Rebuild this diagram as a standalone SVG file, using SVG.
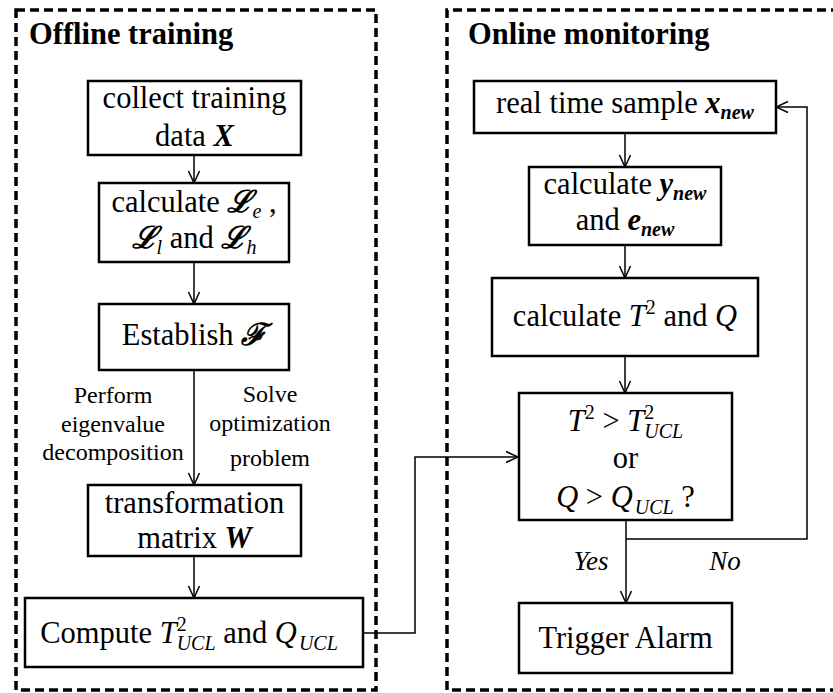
<svg xmlns="http://www.w3.org/2000/svg" width="833" height="693" viewBox="0 0 833 693" font-family="Liberation Serif, Times New Roman, serif">
  <style>
    .frame { fill: none; stroke: #000; stroke-width: 3.5; stroke-dasharray: 9 5; }
    .box { fill: #fff; stroke: #000; stroke-width: 2.5; }
    .edge { fill: none; stroke: #000; stroke-width: 1.5; marker-end: url(#arrow); }
    .title { font-size: 30.5px; font-weight: bold; }
    .t { font-size: 30.5px; text-anchor: middle; }
    .lbl { font-size: 24px; text-anchor: middle; }
    .yn { font-size: 27px; text-anchor: middle; font-style: italic; }
    .bi { font-weight: bold; font-style: italic; }
    .it { font-style: italic; }
    .scr { font-weight: bold; font-style: italic; }
    .sub { font-size: 20px; font-style: italic; }
    .subb { font-size: 20px; font-style: italic; font-weight: bold; }
  </style>
  <defs>
    <marker id="arrow" viewBox="-1 -7 14 14" refX="12" refY="0" markerWidth="14" markerHeight="14" markerUnits="userSpaceOnUse" orient="auto">
      <path d="M0,-5.5 L12,0 L0,5.5" fill="none" stroke="#000" stroke-width="1.5"/>
    </marker>
  </defs>

  <!-- stage frames -->
  <g id="offline-frame">
    <rect class="frame" x="16" y="10" width="360" height="680"/>
    <text class="title" font-family="Liberation Serif, serif" x="29" y="44">Offline training</text>
  </g>
  <g id="online-frame">
    <path class="frame" d="M840,10 L447,10 L447,690 L840,690"/>
    <text class="title" font-family="Liberation Serif, serif" x="468" y="44">Online monitoring</text>
  </g>

  <!-- connectors -->
  <g id="connectors">
    <path class="edge" d="M194,155 L194,183"/>
    <path class="edge" d="M194,262 L194,304"/>
    <path class="edge" d="M194,370 L194,485"/>
    <path class="edge" d="M194,556 L194,598"/>
    <path class="edge" d="M363,633 L415,633 L415,457 L518,457"/>
    <path class="edge" d="M625,133 L625,167"/>
    <path class="edge" d="M625,245 L625,278"/>
    <path class="edge" d="M625,356 L625,393"/>
    <path class="edge" d="M626,520 L626,603"/>
    <path class="edge" d="M626,539 L807,539 L807,107 L776,107"/>
    <text class="lbl" font-family="Liberation Serif, serif" x="113" y="403">Perform</text>
    <text class="lbl" font-family="Liberation Serif, serif" x="113" y="432">eigenvalue</text>
    <text class="lbl" font-family="Liberation Serif, serif" x="113" y="460">decomposition</text>
    <text class="lbl" font-family="Liberation Serif, serif" x="270" y="402">Solve</text>
    <text class="lbl" font-family="Liberation Serif, serif" x="270" y="431">optimization</text>
    <text class="lbl" font-family="Liberation Serif, serif" x="270" y="466">problem</text>
    <text class="yn" font-family="Liberation Serif, serif" x="591" y="570">Yes</text>
    <text class="yn" font-family="Liberation Serif, serif" x="725" y="570">No</text>
  </g>

  <!-- offline nodes -->
  <g id="collect-data">
    <rect class="box" x="88" y="81" width="213" height="74"/>
    <text class="t" font-family="Liberation Serif, serif" x="194.5" y="108">collect training</text>
    <text class="t" font-family="Liberation Serif, serif" x="194.5" y="146">data <tspan class="bi">X</tspan></text>
  </g>
  <g id="calc-losses">
    <rect class="box" x="99" y="183" width="190" height="79"/>
    <text class="t" font-family="Liberation Serif, serif" x="194" y="212">calculate <tspan class="scr" font-family="DejaVu Serif, serif">ℒ</tspan><tspan class="sub" dy="6">e</tspan><tspan dy="-6"> ,</tspan></text>
    <text class="t" font-family="Liberation Serif, serif" x="194" y="248"><tspan class="scr" font-family="DejaVu Serif, serif">ℒ</tspan><tspan class="sub" dy="6">l</tspan><tspan dy="-6"> and </tspan><tspan class="scr" font-family="DejaVu Serif, serif">ℒ</tspan><tspan class="sub" dy="6">h</tspan></text>
  </g>
  <g id="establish-f">
    <rect class="box" x="99" y="304" width="190" height="66"/>
    <text class="t" font-family="Liberation Serif, serif" x="194" y="345">Establish <tspan class="scr" font-family="DejaVu Serif, serif">ℱ</tspan></text>
  </g>
  <g id="transform-matrix">
    <rect class="box" x="88" y="485" width="213" height="71"/>
    <text class="t" font-family="Liberation Serif, serif" x="194.5" y="513">transformation</text>
    <text class="t" font-family="Liberation Serif, serif" x="194.5" y="548">matrix <tspan class="bi">W</tspan></text>
  </g>
  <g id="compute-limits">
    <rect class="box" x="25" y="598" width="338" height="69"/>
    <text class="t" font-family="Liberation Serif, serif" x="189" y="643">Compute <tspan class="it">T</tspan><tspan font-size="20" dy="-12">2</tspan><tspan class="sub" dx="-10" dy="19">UCL</tspan><tspan dy="-7"> and </tspan><tspan class="it">Q</tspan><tspan class="sub" dx="2" dy="7">UCL</tspan></text>
  </g>

  <!-- online nodes -->
  <g id="real-time-sample">
    <rect class="box" x="474" y="81" width="302" height="52"/>
    <text class="t" font-family="Liberation Serif, serif" x="625" y="113">real time sample <tspan class="bi">x</tspan><tspan class="subb" dy="6">new</tspan></text>
  </g>
  <g id="calc-ye">
    <rect class="box" x="529" y="167" width="192" height="78"/>
    <text class="t" font-family="Liberation Serif, serif" x="625" y="194">calculate <tspan class="bi">y</tspan><tspan class="subb" dy="6">new</tspan></text>
    <text class="t" font-family="Liberation Serif, serif" x="625" y="230">and <tspan class="bi">e</tspan><tspan class="subb" dy="6">new</tspan></text>
  </g>
  <g id="calc-stats">
    <rect class="box" x="492" y="278" width="266" height="78"/>
    <text class="t" font-family="Liberation Serif, serif" x="625" y="326">calculate <tspan class="it">T</tspan><tspan font-size="20" dy="-12">2</tspan><tspan dy="12"> and </tspan><tspan class="it">Q</tspan></text>
  </g>
  <g id="threshold-check">
    <rect class="box" x="519" y="393" width="213" height="127"/>
    <text class="t" font-family="Liberation Serif, serif" x="625.5" y="431"><tspan class="it">T</tspan><tspan font-size="20" dy="-12">2</tspan><tspan dy="12"> &gt; </tspan><tspan class="it">T</tspan><tspan font-size="20" dy="-12">2</tspan><tspan class="sub" dx="-10" dy="19">UCL</tspan></text>
    <text class="t" font-family="Liberation Serif, serif" x="625.5" y="468">or</text>
    <text class="t" font-family="Liberation Serif, serif" x="625.5" y="507"><tspan class="it">Q</tspan> &gt; <tspan class="it">Q</tspan><tspan class="sub" dx="2" dy="7">UCL</tspan><tspan dy="-7"> ?</tspan></text>
  </g>
  <g id="trigger-alarm">
    <rect class="box" x="519" y="603" width="213" height="70"/>
    <text class="t" font-family="Liberation Serif, serif" x="625.5" y="648">Trigger Alarm</text>
  </g>
</svg>
